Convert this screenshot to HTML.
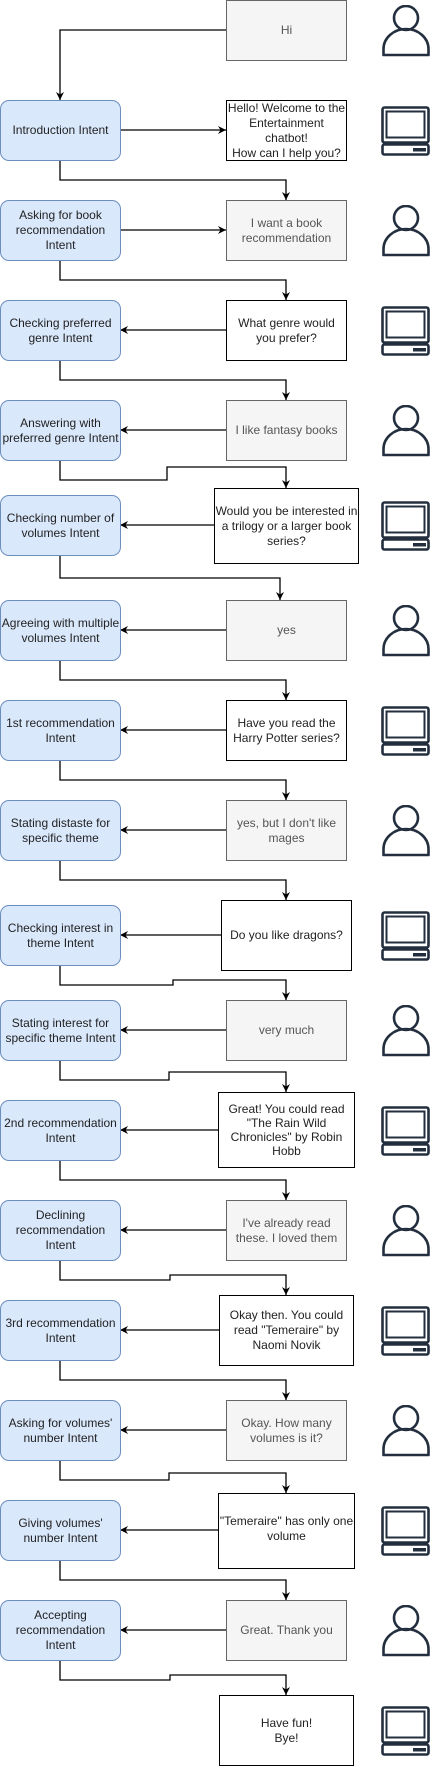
<!DOCTYPE html>
<html><head><meta charset="utf-8"><style>
body{margin:0;width:433px;height:1766px;position:relative;background:#fff;font-family:"Liberation Sans",Arial,sans-serif;overflow:hidden}
.b{position:absolute;box-sizing:border-box;display:flex;align-items:center;justify-content:center;text-align:center;font-size:12px;line-height:15px}
.i{left:0;width:121px;height:61px;background:#dae8fc;border:1px solid #6c8ebf;border-radius:9px;color:#222}
.g{background:#f5f5f5;border:1px solid #666;color:#555}
.w{background:#fff;border:1px solid #000;color:#222}
svg{position:absolute;left:0;top:0}
</style></head><body>
<svg width="433" height="1766" viewBox="0 0 433 1766">
<defs>
<marker id="a" markerWidth="10" markerHeight="10" refX="8" refY="5" orient="auto" markerUnits="userSpaceOnUse"><path d="M0,1 L8,5 L0,9 L2.5,5 Z" fill="#000"/></marker>
<symbol id="p" viewBox="0 0 50 52"><circle cx="24" cy="13" r="12" fill="none" stroke="#232f3e" stroke-width="2.6"/><path d="M1.5,50 V44 A22.5,20 0 0 1 46.5,44 V50 Z" fill="none" stroke="#232f3e" stroke-width="2.6" stroke-linejoin="round"/></symbol>
<symbol id="c" viewBox="0 0 50 50"><rect x="1.5" y="1.5" width="46" height="35" rx="2" fill="none" stroke="#232f3e" stroke-width="2.6"/><rect x="5.5" y="5.5" width="38" height="26" fill="none" stroke="#232f3e" stroke-width="2"/><rect x="1.5" y="38.5" width="46" height="10" rx="2" fill="none" stroke="#232f3e" stroke-width="2.6"/><rect x="32" y="42" width="13" height="3.5" fill="#232f3e"/></symbol>
</defs>
<g fill="none" stroke="#000" stroke-width="1.3" marker-end="url(#a)">
<path d="M226,30 H60 V100"/>
<path d="M120,130 H226"/>
<path d="M60,160 V180 H286 V200"/>
<path d="M120,230 H226"/>
<path d="M60,260 V280 H286 V300"/>
<path d="M226,330 H120"/>
<path d="M60,360 V380 H286 V400"/>
<path d="M226,430 H120"/>
<path d="M60,460 V480 H167 V467 H286 V488"/>
<path d="M214,525 H120"/>
<path d="M60,555 V578 H280 V600"/>
<path d="M226,630 H120"/>
<path d="M60,660 V680 H286 V700"/>
<path d="M226,730 H120"/>
<path d="M60,760 V780 H286 V800"/>
<path d="M226,830 H120"/>
<path d="M60,860 V880 H286 V900"/>
<path d="M221,935 H120"/>
<path d="M60,965 V985 H173 V980 H286 V1000"/>
<path d="M226,1030 H120"/>
<path d="M60,1060 V1080 H169 V1072 H286 V1092"/>
<path d="M218,1130 H120"/>
<path d="M60,1160 V1180 H286 V1200"/>
<path d="M226,1230 H120"/>
<path d="M60,1260 V1280 H170 V1275 H286 V1295"/>
<path d="M219,1330 H120"/>
<path d="M60,1360 V1380 H286 V1400"/>
<path d="M226,1430 H120"/>
<path d="M60,1460 V1480 H169 V1473 H286 V1493"/>
<path d="M218,1530 H120"/>
<path d="M60,1560 V1580 H286 V1600"/>
<path d="M226,1630 H120"/>
<path d="M60,1660 V1680 H170 V1675 H286 V1695"/>
</g>
<use href="#p" x="382" y="5" width="50" height="52"/>
<use href="#c" x="381" y="106" width="50" height="50"/>
<use href="#p" x="382" y="205" width="50" height="52"/>
<use href="#c" x="381" y="306" width="50" height="50"/>
<use href="#p" x="382" y="405" width="50" height="52"/>
<use href="#c" x="381" y="501" width="50" height="50"/>
<use href="#p" x="382" y="605" width="50" height="52"/>
<use href="#c" x="381" y="706" width="50" height="50"/>
<use href="#p" x="382" y="805" width="50" height="52"/>
<use href="#c" x="381" y="911" width="50" height="50"/>
<use href="#p" x="382" y="1005" width="50" height="52"/>
<use href="#c" x="381" y="1106" width="50" height="50"/>
<use href="#p" x="382" y="1205" width="50" height="52"/>
<use href="#c" x="381" y="1306" width="50" height="50"/>
<use href="#p" x="382" y="1405" width="50" height="52"/>
<use href="#c" x="381" y="1506" width="50" height="50"/>
<use href="#p" x="382" y="1605" width="50" height="52"/>
<use href="#c" x="381" y="1706" width="50" height="50"/>
</svg>

<div class="b g" style="left:226px;top:0;width:121px;height:61px">Hi</div>

<div class="b i" style="top:100px">Introduction Intent</div>
<div class="b w" style="left:226px;top:100px;width:121px;height:61px">Hello! Welcome to the<br>Entertainment<br>chatbot!<br>How can I help you?</div>

<div class="b i" style="top:200px">Asking for book<br>recommendation<br>Intent</div>
<div class="b g" style="left:226px;top:200px;width:121px;height:61px">I want a book<br>recommendation</div>

<div class="b i" style="top:300px">Checking preferred<br>genre Intent</div>
<div class="b w" style="left:226px;top:300px;width:121px;height:61px">What genre would<br>you prefer?</div>

<div class="b i" style="top:400px">Answering with<br>preferred genre Intent</div>
<div class="b g" style="left:226px;top:400px;width:121px;height:61px">I like fantasy books</div>

<div class="b i" style="top:495px">Checking number of<br>volumes Intent</div>
<div class="b w" style="left:214px;top:488px;width:145px;height:76px">Would you be interested in<br>a trilogy or a larger book<br>series?</div>

<div class="b i" style="top:600px">Agreeing with multiple<br>volumes Intent</div>
<div class="b g" style="left:226px;top:600px;width:121px;height:61px">yes</div>

<div class="b i" style="top:700px">1st recommendation<br>Intent</div>
<div class="b w" style="left:226px;top:700px;width:121px;height:61px">Have you read the<br>Harry Potter series?</div>

<div class="b i" style="top:800px">Stating distaste for<br>specific theme</div>
<div class="b g" style="left:226px;top:800px;width:121px;height:61px">yes, but I don't like<br>mages</div>

<div class="b i" style="top:905px">Checking interest in<br>theme Intent</div>
<div class="b w" style="left:221px;top:900px;width:131px;height:71px">Do you like dragons?</div>

<div class="b i" style="top:1000px">Stating interest for<br>specific theme Intent</div>
<div class="b g" style="left:226px;top:1000px;width:121px;height:61px">very much</div>

<div class="b i" style="top:1100px">2nd recommendation<br>Intent</div>
<div class="b w" style="left:218px;top:1092px;width:137px;height:76px;line-height:14px">Great! You could read<br>"The Rain Wild<br>Chronicles" by Robin<br>Hobb</div>

<div class="b i" style="top:1200px">Declining<br>recommendation<br>Intent</div>
<div class="b g" style="left:226px;top:1200px;width:121px;height:61px">I've already read<br>these. I loved them</div>

<div class="b i" style="top:1300px">3rd recommendation<br>Intent</div>
<div class="b w" style="left:219px;top:1295px;width:135px;height:71px">Okay then. You could<br>read "Temeraire" by<br>Naomi Novik</div>

<div class="b i" style="top:1400px">Asking for volumes'<br>number Intent</div>
<div class="b g" style="left:226px;top:1400px;width:121px;height:61px">Okay. How many<br>volumes is it?</div>

<div class="b i" style="top:1500px">Giving volumes'<br>number Intent</div>
<div class="b w" style="left:218px;top:1493px;width:137px;height:76px;align-items:flex-start;padding-top:20px">"Temeraire" has only one<br>volume</div>

<div class="b i" style="top:1600px">Accepting<br>recommendation<br>Intent</div>
<div class="b g" style="left:226px;top:1600px;width:121px;height:61px">Great. Thank you</div>

<div class="b w" style="left:219px;top:1695px;width:135px;height:71px">Have fun!<br>Bye!</div>
</body></html>
